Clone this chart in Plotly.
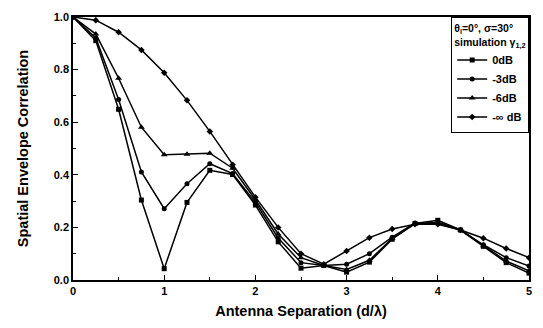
import plotly.graph_objects as go

x = [0, 0.25, 0.5, 0.75, 1, 1.25, 1.5, 1.75, 2, 2.25, 2.5, 2.75, 3, 3.25, 3.5, 3.75, 4, 4.25, 4.5, 4.75, 5]
y_0dB   = [1.0, 0.91, 0.649, 0.304, 0.043, 0.295, 0.417, 0.401, 0.285, 0.145, 0.045, 0.055, 0.030, 0.068, 0.155, 0.215, 0.227, 0.190, 0.128, 0.066, 0.026]
y_m3dB  = [1.0, 0.92, 0.686, 0.411, 0.271, 0.366, 0.442, 0.405, 0.295, 0.160, 0.066, 0.055, 0.060, 0.100, 0.163, 0.217, 0.215, 0.190, 0.134, 0.085, 0.053]
y_m6dB  = [1.0, 0.935, 0.767, 0.581, 0.476, 0.478, 0.482, 0.425, 0.305, 0.175, 0.085, 0.055, 0.040, 0.075, 0.158, 0.213, 0.220, 0.190, 0.130, 0.072, 0.035]
y_minf  = [1.0, 0.988, 0.942, 0.875, 0.788, 0.683, 0.565, 0.438, 0.315, 0.200, 0.100, 0.060, 0.110, 0.161, 0.194, 0.212, 0.212, 0.190, 0.159, 0.120, 0.085]

series = [
    ("0dB", y_0dB, "square", 5),
    ("-3dB", y_m3dB, "circle", 5),
    ("-6dB", y_m6dB, "triangle-up", 6),
    ("-\u221e dB", y_minf, "diamond", 5),
]

fig = go.Figure()
for name, ys, sym, sz in series:
    fig.add_trace(go.Scatter(
        x=x, y=ys, name=name, mode="lines+markers",
        line=dict(color="black", width=1.5),
        marker=dict(symbol=sym, size=sz, color="black"),
    ))

font = "Liberation Sans, Arial, sans-serif"
fig.update_layout(
    width=543, height=328,
    margin=dict(l=73, r=11, t=12, b=47),
    paper_bgcolor="white", plot_bgcolor="white",
    font=dict(family=font, color="black", size=11),
    legend=dict(
        x=1, y=1, xanchor="right", yanchor="top",
        bordercolor="black", borderwidth=1.2, bgcolor="white",
        font=dict(size=11, family=font, weight="bold"),
        title=dict(text="\u03b8<sub>i</sub>=0\u00b0, \u03c3=30\u00b0<br>simulation \u03b3<sub>1,2</sub>",
                   font=dict(size=10.5, family=font, weight="bold")),
        itemwidth=30, tracegroupgap=0,
    ),
    xaxis=dict(
        range=[0, 5], tickvals=[0, 1, 2, 3, 4, 5], ticks="inside", ticklen=5,
        tickwidth=1.2, tickcolor="black", showline=True, linecolor="black",
        linewidth=1.5, mirror=True, showgrid=False, zeroline=False,
        tickfont=dict(size=11, family=font, weight="bold"),
        minor=dict(tickvals=[0.5, 1.5, 2.5, 3.5, 4.5], ticks="inside", ticklen=3, tickcolor="black"),
        title=dict(text="Antenna Separation (d/\u03bb)", font=dict(size=14.5, family=font, weight="bold"), standoff=10),
    ),
    yaxis=dict(
        range=[0, 1], tickvals=[0, 0.2, 0.4, 0.6, 0.8, 1.0], ticktext=["0.0", "0.2", "0.4", "0.6", "0.8", "1.0"],
        ticks="inside", ticklen=5, tickwidth=1.2, tickcolor="black",
        showline=True, linecolor="black", linewidth=1.5, mirror=True,
        showgrid=False, zeroline=False,
        tickfont=dict(size=11, family=font, weight="bold"),
        minor=dict(tickvals=[0.1, 0.3, 0.5, 0.7, 0.9], ticks="inside", ticklen=3, tickcolor="black"),
        title=dict(text="Spatial Envelope Correlation", font=dict(size=14.5, family=font, weight="bold"), standoff=22),
    ),
)
fig.write_html("out.html")
